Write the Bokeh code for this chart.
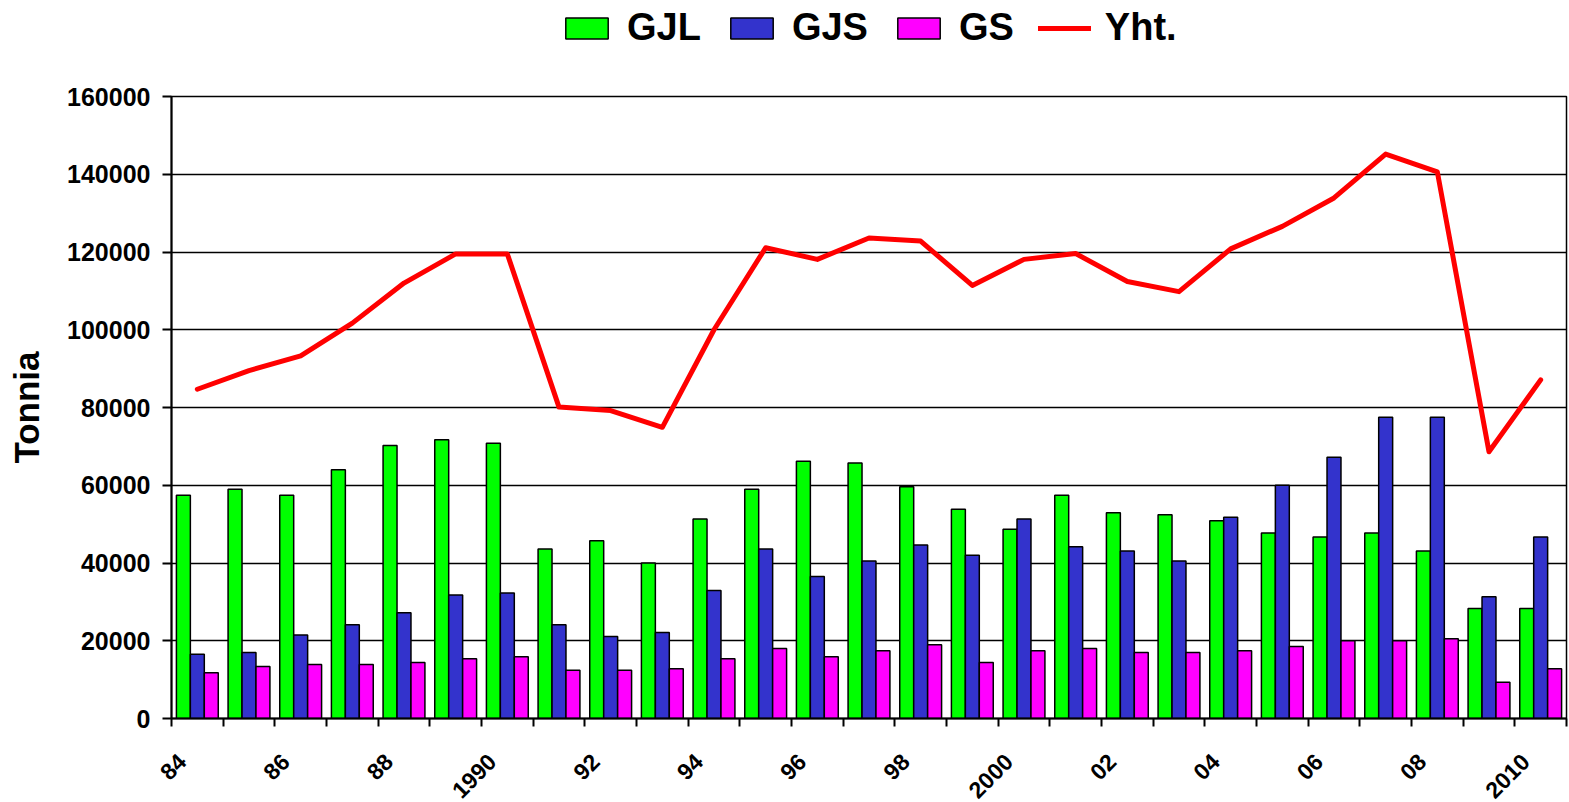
import math
from bokeh.plotting import figure
from bokeh.layouts import column
from bokeh.models import (FixedTicker, Legend, LegendItem, Range1d, ColumnDataSource,
                          BasicTickFormatter)
from bokeh.transform import dodge
from bokeh.embed import file_html
from bokeh.resources import INLINE

years = list(range(1984, 2011))
tick_labels = ["84", "86", "88", "1990", "92", "94", "96", "98", "2000",
               "02", "04", "06", "08", "2010"]
y_ticks = [0, 20000, 40000, 60000, 80000, 100000, 120000, 140000, 160000]
series_names = ["GJL", "GJS", "GS", "Yht."]

gjl = [57400, 59000, 57400, 64000, 70200, 71700, 70800, 43600, 45700, 40000,
       51300, 59000, 66200, 65700, 59600, 53800, 48700, 57400, 52900, 52400,
       50900, 47700, 46700, 47700, 43100, 28300, 28300]
gjs = [16500, 17000, 21500, 24100, 27200, 31800, 32300, 24100, 21100, 22100,
       32900, 43600, 36500, 40500, 44600, 42000, 51300, 44200, 43100, 40500,
       51800, 60000, 67200, 77500, 77500, 31300, 46700]
gs = [11800, 13400, 13900, 13900, 14400, 15400, 15900, 12400, 12400, 12800,
      15400, 18000, 15900, 17400, 19000, 14400, 17400, 18000, 17000, 17000,
      17400, 18500, 20000, 20000, 20500, 9300, 12800]
yht = [84700, 89500, 93300, 101700, 112000, 119500, 119500, 80100, 79200, 74900,
       100000, 121100, 118100, 123600, 122800, 111400, 118100, 119600, 112400, 109800,
       120800, 126600, 133900, 145200, 140600, 68600, 87100]

C_GJL, C_GJS, C_GS, C_YHT = "#00FF00", "#3333CC", "#FF00FF", "#FF0000"
FONT = "Liberation Sans"

idx = list(range(len(years)))
src = ColumnDataSource(dict(x=idx, year=years, gjl=gjl, gjs=gjs, gs=gs, yht=yht))

# ---------------- main chart ----------------
p = figure(width=1569, height=732, output_backend="svg", toolbar_location=None,
           x_range=Range1d(-0.5, len(years) - 0.5), y_range=Range1d(0, 160000),
           min_border_left=171, min_border_right=3, min_border_top=20,
           min_border_bottom=83)
p.background_fill_color = "white"
p.border_fill_color = "white"
p.outline_line_color = "black"
p.outline_line_width = 1.5

bw = 0.27
p.vbar(x=dodge("x", -bw, range=p.x_range), top="gjl", width=bw, source=src,
       fill_color=C_GJL, line_color="black", line_width=1.5)
p.vbar(x="x", top="gjs", width=bw, source=src,
       fill_color=C_GJS, line_color="black", line_width=1.5)
p.vbar(x=dodge("x", bw, range=p.x_range), top="gs", width=bw, source=src,
       fill_color=C_GS, line_color="black", line_width=1.5)
p.line(x="x", y="yht", source=src, line_color=C_YHT, line_width=5,
       line_join="round", line_cap="round")

p.xgrid.visible = False
p.ygrid.ticker = FixedTicker(ticks=y_ticks)
p.ygrid.grid_line_color = "black"
p.ygrid.grid_line_width = 1.5

# x axis: labels every other year, tick marks between categories
shift = 0.3
major_x = [i - shift for i in idx[::2]]
p.xaxis.ticker = FixedTicker(ticks=major_x,
                             minor_ticks=[i - 0.5 for i in idx] + [idx[-1] + 0.5])
p.xaxis.major_label_overrides = {t: lab for t, lab in zip(major_x, tick_labels)}
p.xaxis.major_label_orientation = math.pi / 4
p.xaxis.major_tick_out = 0
p.xaxis.major_tick_in = 0
p.xaxis.minor_tick_out = 8
p.xaxis.minor_tick_in = 0
p.xaxis.minor_tick_line_color = "black"
p.xaxis.minor_tick_line_width = 2
p.xaxis.axis_line_width = 2
p.xaxis.axis_line_color = "black"
p.xaxis.major_label_text_font = FONT
p.xaxis.major_label_text_font_style = "bold"
p.xaxis.major_label_text_font_size = "23px"
p.xaxis.major_label_text_color = "black"
p.xaxis.major_label_standoff = 31

# y axis
p.yaxis.ticker = FixedTicker(ticks=y_ticks)
p.yaxis.formatter = BasicTickFormatter(use_scientific=False)
p.yaxis.major_tick_out = 9
p.yaxis.major_tick_in = 0
p.yaxis.minor_tick_out = 0
p.yaxis.minor_tick_in = 0
p.yaxis.major_tick_line_width = 2
p.yaxis.major_tick_line_color = "black"
p.yaxis.axis_line_width = 2
p.yaxis.axis_line_color = "black"
p.yaxis.major_label_text_font = FONT
p.yaxis.major_label_text_font_style = "bold"
p.yaxis.major_label_text_font_size = "25px"
p.yaxis.major_label_text_color = "black"
p.yaxis.major_label_standoff = 12
p.yaxis.axis_label = "Tonnia"
p.yaxis.axis_label_text_font = FONT
p.yaxis.axis_label_text_font_style = "bold"
p.yaxis.axis_label_text_font_size = "35px"
p.yaxis.axis_label_text_color = "black"
p.yaxis.axis_label_standoff = 18

# ---------------- legend strip ----------------
# The same series are attached (hidden) to a strip above the chart; only
# their legend entries are shown there.
pl = figure(width=1569, height=76, output_backend="svg", toolbar_location=None,
            x_range=Range1d(-0.5, len(years) - 0.5), y_range=Range1d(-1000, -500),
            min_border_left=171, min_border_right=3, min_border_top=0,
            min_border_bottom=0)
pl.axis.visible = False
pl.grid.visible = False
pl.outline_line_color = None
pl.background_fill_color = "white"
pl.border_fill_color = "white"
l1 = pl.vbar(x="x", top="gjl", width=bw, source=src, fill_color=C_GJL,
             line_color="black", line_width=1.5, visible=False)
l2 = pl.vbar(x="x", top="gjs", width=bw, source=src, fill_color=C_GJS,
             line_color="black", line_width=1.5, visible=False)
l3 = pl.vbar(x="x", top="gs", width=bw, source=src, fill_color=C_GS,
             line_color="black", line_width=1.5, visible=False)
l4 = pl.line(x="x", y="yht", source=src, line_color=C_YHT, line_width=5,
             line_cap="round", visible=False)
legend = Legend(items=[LegendItem(label=n, renderers=[r])
                       for n, r in zip(series_names, [l1, l2, l3, l4])],
                orientation="horizontal", location=(389, 27),
                glyph_width=53, glyph_height=26, label_standoff=14, spacing=24,
                padding=0, margin=0, border_line_color=None,
                background_fill_alpha=0, inactive_fill_alpha=0,
                label_text_font=FONT, label_text_font_style="bold",
                label_text_font_size="38px", label_text_color="black")
pl.add_layout(legend, "center")

layout = column(pl, p, spacing=0, styles={"overflow": "hidden", "height": "802px"})
open("out.html", "w").write(file_html(layout, INLINE))
